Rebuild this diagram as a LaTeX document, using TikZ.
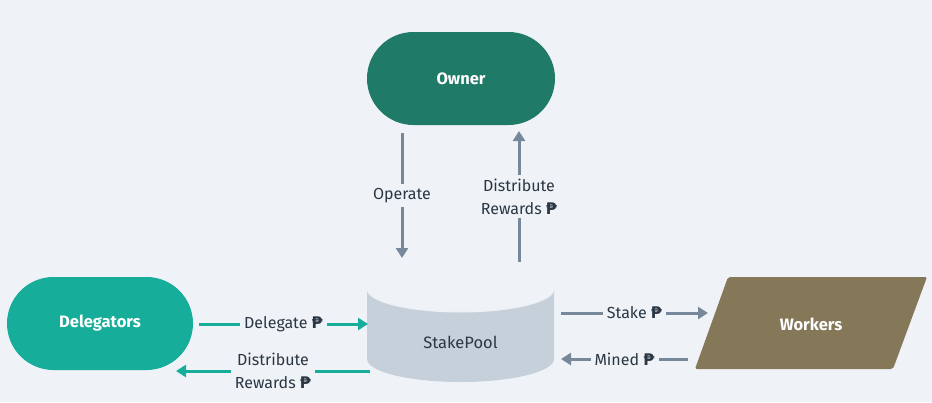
\documentclass[tikz,border=0pt]{standalone}
\usepackage{fontspec}
\setmainfont{Fira Sans}
\newfontfamily\pesofont{DejaVu Sans}
\usetikzlibrary{arrows.meta,calc}
\definecolor{bg}{HTML}{EFF3F7}
\definecolor{owner}{HTML}{1F7A67}
\definecolor{deleg}{HTML}{17AD9B}
\definecolor{pool}{HTML}{C5D0DA}
\definecolor{work}{HTML}{857859}
\definecolor{garrow}{HTML}{77889A}
\definecolor{txt}{HTML}{2A3643}
\newcommand{\peso}{{\pesofont\bfseries ₱}}
\tikzset{
  lbl/.style={fill=bg, text=txt, font=\fontsize{16}{23}\selectfont, align=center, inner sep=4pt},
  garr/.style={draw=garrow, line width=3pt, -{Triangle[length=10pt,width=12pt]}},
  tarr/.style={draw=deleg, line width=3pt, -{Triangle[length=10pt,width=12pt]}},
  nodetxt/.style={text=white, font=\fontsize{16.5}{18}\selectfont\bfseries},
}
\begin{document}
\begin{tikzpicture}[x=1pt,y=-1pt]
\useasboundingbox[fill=bg] (0,0) rectangle (932,402);
% Owner
\node[fill=owner, rounded corners=46.5pt, minimum width=188pt, minimum height=93pt, nodetxt, inner sep=0pt] (owner) at (461,78.5) {Owner};
% Delegators
\node[fill=deleg, rounded corners=46.5pt, minimum width=186pt, minimum height=93pt, nodetxt, inner sep=0pt] (deleg) at (100,323.5) {Delegators};
% StakePool cylinder
\fill[pool] (367,289) -- (367,359) arc[x radius=93.5pt, y radius=23pt, start angle=180, end angle=360] -- (554,289) arc[x radius=93.5pt, y radius=23pt, start angle=0, end angle=-180] -- cycle;
\draw[white!70!pool, line width=1pt] (367,289) arc[x radius=93.5pt, y radius=23pt, start angle=180, end angle=360];
\node[text=txt, font=\fontsize{16.5}{18}\selectfont] (pool) at (460.5,342) {StakePool};
% Workers parallelogram
\fill[work, rounded corners=2pt] (728,277) -- (927,277) -- (893,369) -- (695,369) -- cycle;
\node[nodetxt] (work) at (811,324) {Workers};
% coordinates for connectors
\coordinate (opS) at (402,133);
\coordinate (opE) at (402,258);
\coordinate (drS) at (519,262);
\coordinate (drE) at (519,131);
\coordinate (dgS) at (199,324);
\coordinate (dgE) at (368,324);
\coordinate (dlS) at (370,371);
\coordinate (dlE) at (176,371);
\coordinate (stS) at (561,313);
\coordinate (stE) at (708,313);
\coordinate (mnS) at (688,359);
\coordinate (mnE) at (561,359);
% connectors
\draw[garr] (opS) -- node[lbl] (oplbl) {Operate} (opE);
\draw[garr] (drS) -- node[lbl] (drlbl) {Distribute\\Rewards \peso} (drE);
\draw[tarr] (dgS) -- node[lbl] (dglbl) {Delegate \peso} (dgE);
\draw[tarr] (dlS) -- node[lbl] (dllbl) {Distribute\\Rewards \peso} (dlE);
\draw[garr] (stS) -- node[lbl] (stlbl) {Stake \peso} (stE);
\draw[garr] (mnS) -- node[lbl] (mnlbl) {Mined \peso} (mnE);
\end{tikzpicture}
\end{document}
